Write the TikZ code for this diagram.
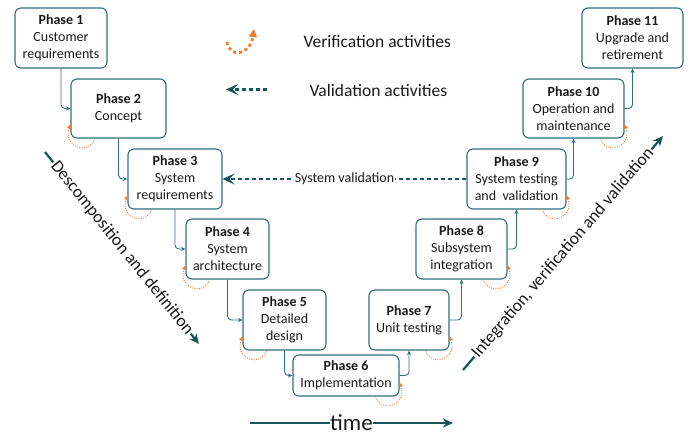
\documentclass[tikz,border=0pt]{standalone}
\usepackage{fontspec}
\setmainfont{Carlito}
\usetikzlibrary{arrows.meta,calc}
\definecolor{boxline}{HTML}{2F6F7C}
\definecolor{valcol}{HTML}{17555A}
\definecolor{vercol}{HTML}{ED7D31}
\definecolor{txt}{HTML}{1A1A1A}

% verification loop at the lower left / lower right corner of a phase box
\newcommand\vloopL[1]{\draw[verif] ($(#1.south west)+(24,0)$) .. controls ($(#1.south west)+(19,17)$) and ($(#1.south west)+(-8,9)$) .. ($(#1.south west)+(0,-14)$);}
\newcommand\vloopR[1]{\draw[verif] ($(#1.south east)+(-24,0)$) .. controls ($(#1.south east)+(-19,17)$) and ($(#1.south east)+(8,9)$) .. ($(#1.south east)+(0,-14)$);}

\begin{document}
\begin{tikzpicture}[x=1pt,y=-1pt,
  phase/.style={draw=boxline, line width=1.1pt, rounded corners=6pt, fill=white,
    align=center, inner sep=0pt, text=txt, font=\fontsize{14}{17}\selectfont},
  conn/.style={draw=boxline, line width=0.9pt, rounded corners=4pt,
    -{Stealth[length=4.5pt,width=4pt]}},
  verif/.style={draw=vercol, line width=0.9pt, dash pattern=on 1pt off 1.3pt,
    -{Triangle[length=4pt,width=4pt]}},
  valid/.style={draw=valcol, line width=2.6pt, dash pattern=on 4pt off 3pt,
    -{Stealth[length=12pt,width=11pt,inset=5pt]}},
  legverif/.style={draw=vercol, line width=2.8pt, dash pattern=on 3pt off 3pt,
    -{Triangle[length=8pt,width=8pt]}},
  bigarrow/.style={draw=valcol, line width=2.2pt, -{Stealth[length=10pt,width=9pt]}},
  lbl/.style={fill=white, inner sep=1pt, text=txt},
]
\useasboundingbox (0,0) rectangle (691,432);

% phase boxes
\node[phase, minimum width=92pt,  minimum height=60pt] (p1)  at (61,38)      {\textbf{Phase 1}\\Customer\\requirements};
\node[phase, minimum width=95pt,  minimum height=59pt] (p2)  at (118.5,108.5) {\textbf{Phase 2}\\Concept};
\node[phase, minimum width=94pt,  minimum height=60pt] (p3)  at (175,179)    {\textbf{Phase 3}\\System\\requirements};
\node[phase, minimum width=83pt,  minimum height=60pt] (p4)  at (227.5,249)  {\textbf{Phase 4}\\System\\architecture};
\node[phase, minimum width=83pt,  minimum height=60pt] (p5)  at (284.5,320)  {\textbf{Phase 5}\\Detailed\\design};
\node[phase, minimum width=106pt, minimum height=41pt] (p6)  at (346,375.5)  {\textbf{Phase 6}\\Implementation};
\node[phase, minimum width=80pt,  minimum height=60pt] (p7)  at (409,320)    {\textbf{Phase 7}\\Unit testing};
\node[phase, minimum width=91pt,  minimum height=60pt] (p8)  at (461.5,249)  {\textbf{Phase 8}\\Subsystem\\integration};
\node[phase, minimum width=99pt,  minimum height=60pt] (p9)  at (516.5,179)  {\textbf{Phase 9}\\System testing\\and\ \ validation};
\node[phase, minimum width=101pt, minimum height=59pt] (p10) at (573.5,108.5) {\textbf{Phase 10}\\Operation and\\maintenance};
\node[phase, minimum width=101pt, minimum height=60pt] (p11) at (632.5,38)   {\textbf{Phase 11}\\Upgrade and\\retirement};

% flow between phases
\draw[conn] (p1.south) |- (p2.west);
\draw[conn] (p2.south) |- (p3.west);
\draw[conn] (p3.south) |- (p4.west);
\draw[conn] (p4.south) |- (p5.west);
\draw[conn] (p5.south) |- (p6.west);
\draw[conn] (p6.east) -| (p7.south);
\draw[conn] (p7.east) -| (p8.south);
\draw[conn] (p8.east) -| (p9.south);
\draw[conn] (p9.east) -| (p10.south);
\draw[conn] (p10.east) -| (p11.south);

% verification loops
\vloopL{p2}
\vloopL{p3}
\vloopL{p4}
\vloopL{p5}
\vloopR{p6}
\vloopR{p7}
\vloopR{p8}
\vloopR{p9}
\vloopR{p10}

% system validation
\draw[valid] (p9.west) -- node[lbl, font=\fontsize{14}{17}\selectfont] (sv) {System validation} (p3.east);

% legend
\coordinate (lv1) at (227,42);
\coordinate (lv2) at (254,29);
\draw[legverif] (lv1) .. controls (229,58) and (250,56) .. (lv2);
\node[anchor=base west, text=txt, font=\fontsize{17.5}{20}\selectfont] (lvt) at (300,47) {Verification activities};
\coordinate (la1) at (267,89.5);
\coordinate (la2) at (226,89.5);
\draw[valid] (la1) -- (la2);
\node[anchor=base west, text=txt, font=\fontsize{17.5}{20}\selectfont] (lat) at (306,96) {Validation activities};

% direction arrows
\coordinate (d1s) at (45,152);
\coordinate (d1e) at (199,344);
\draw[bigarrow] (d1s) -- node[lbl, sloped, font=\fontsize{17.5}{20}\selectfont] (dd) {Descomposition and definition} (d1e);
\coordinate (d2s) at (463,370);
\coordinate (d2e) at (663,136);
\draw[bigarrow] (d2s) -- node[lbl, sloped, font=\fontsize{17.5}{20}\selectfont] (iv) {Integration, verification and validation} (d2e);
\coordinate (t1) at (250,423);
\coordinate (t2) at (453,423);
\draw[bigarrow] (t1) -- node[lbl, inner sep=0.5pt, font=\fontsize{23}{26}\selectfont] (tm) {time} (t2);
\end{tikzpicture}
\end{document}
